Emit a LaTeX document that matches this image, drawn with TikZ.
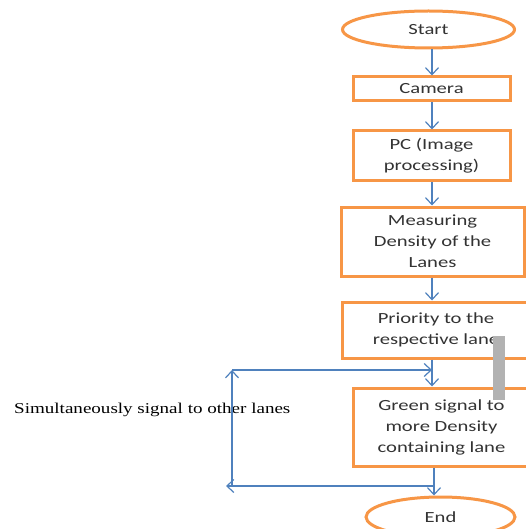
\documentclass[tikz,border=0pt]{standalone}
\usepackage{fontspec}
\setmainfont{Carlito}[FakeStretch=1.33]
\newfontfamily\serifone{Liberation Serif}[FakeStretch=1.27]
\usetikzlibrary{arrows.meta,shapes.geometric}
\definecolor{boxorange}{HTML}{F79646}
\definecolor{lineblue}{HTML}{4F81BD}
\tikzset{
  flowbox/.style={draw=boxorange, line width=3pt, fill=white, rectangle, align=center, text=black!80, font=\fontsize{15.5}{21}\selectfont, inner sep=0pt},
  termbox/.style={draw=boxorange, line width=3pt, fill=white, ellipse, text=black!80, font=\fontsize{15.5}{21}\selectfont, inner sep=0pt},
  arr/.style={draw=lineblue, line width=1.2pt, -{Straight Barb[length=7pt,width=13pt]}},
}
\begin{document}
\begin{tikzpicture}[x=1pt,y=-1pt]
\useasboundingbox (0,0) rectangle (526,529);
\clip (0,0) rectangle (526,529);
\node[termbox, minimum width=172pt, minimum height=37pt] (start) at (428.5,29.5) {Start};
\node[flowbox, minimum width=157pt, minimum height=24pt] (camera) at (431.5,89) {Camera};
\node[flowbox, minimum width=157pt, minimum height=50pt] (pc) at (431.5,156) {PC (Image\\processing)};
\node[flowbox, minimum width=183pt, minimum height=69pt] (meas) at (432.5,241.5) {Measuring\\Density of the\\Lanes};
\node[flowbox, minimum width=188pt, minimum height=56pt] (prio) at (436,330) {Priority to the\\respective lane};
\node[flowbox, minimum width=177pt, minimum height=78pt] (green) at (441.5,427) {Green signal to\\more Density\\containing lane};
\node[termbox, minimum width=149pt, minimum height=40pt] (end) at (440.5,517) {End};
\node[font=\serifone\fontsize{15}{17}\selectfont, text=black, anchor=west, inner sep=0pt] (simul) at (14,410) {Simultaneously signal to other lanes};

\coordinate (a1) at (432,48);
\draw[arr] (start.south -| a1) -- (camera.north -| a1);
\draw[arr] (camera.south -| a1) -- (pc.north -| a1);
\draw[arr] (pc.south -| a1) -- (meas.north -| a1);
\draw[arr] (meas.south -| a1) -- (prio.north -| a1);
\coordinate (b1) at (432,360);
\draw[arr] (prio.south -| b1) -- (green.north -| b1);
\coordinate (c1) at (434,468);
\draw[arr] (green.south -| c1) -- (end.north -| c1);
\coordinate (lt) at (232,370);
\coordinate (rt) at (432,370);
\coordinate (lb) at (226,486);
\coordinate (rb) at (433,486);
\coordinate (vb) at (232,486);
\draw[arr] (lt) -- (rt);
\draw[arr] (vb) -- (lt);
\draw[arr] (rb) -- (lb);
\fill[black!30] (493,336) rectangle (505,400);
\end{tikzpicture}
\end{document}
